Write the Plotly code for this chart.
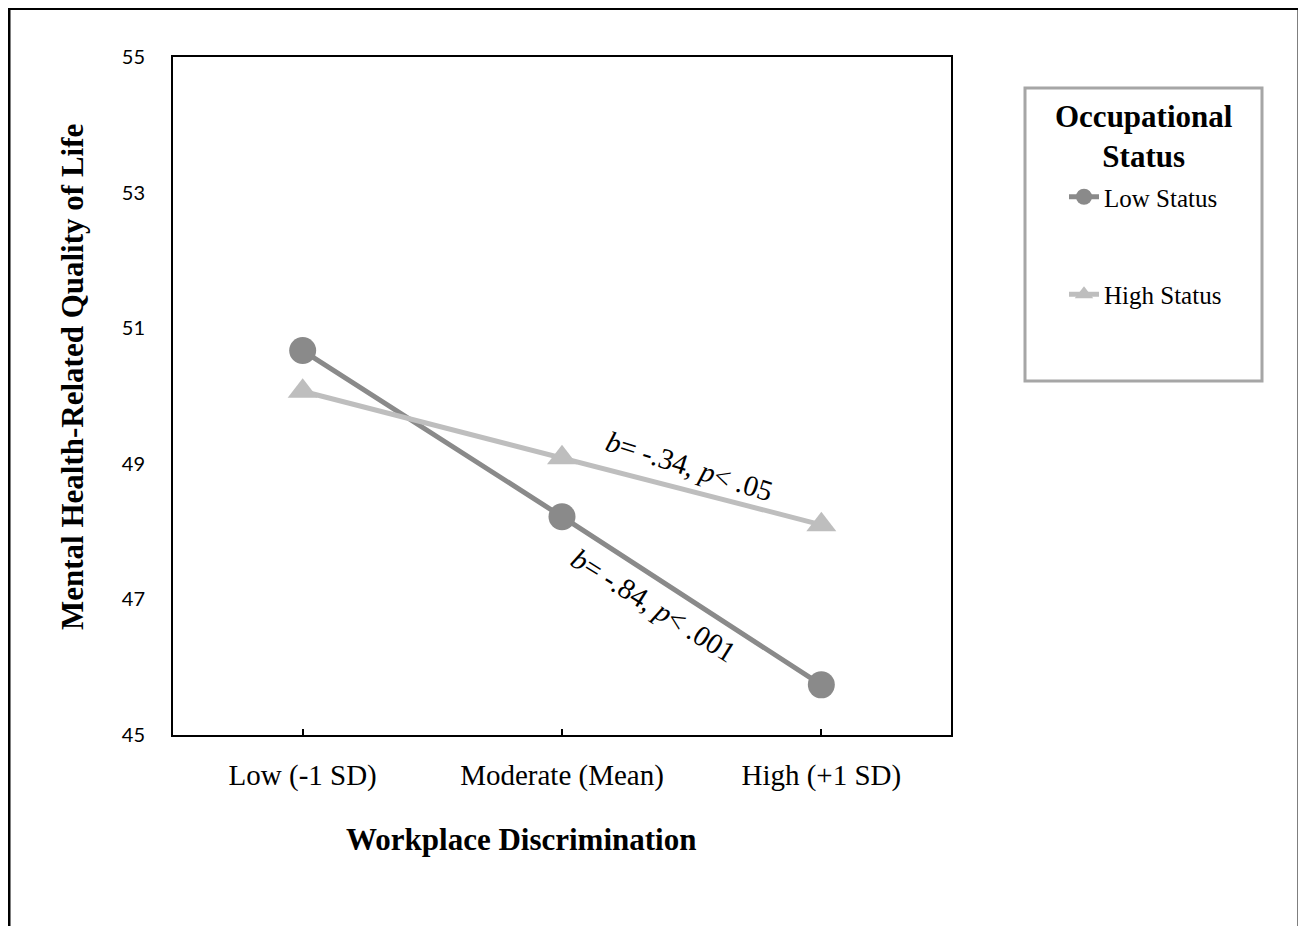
import plotly.graph_objects as go

categories = ["Low (-1 SD)", "Moderate (Mean)", "High (+1 SD)"]
low_status = [50.67, 48.22, 45.74]
high_status = [50.07, 49.09, 48.10]
y_ticks = [45, 47, 49, 51, 53, 55]

SERIF = "Liberation Serif, Times New Roman, serif"
SANS = "Lato, Open Sans, sans-serif"

W, H = 1306, 926
OFF = 8  # page body margin offset
# plot area in screen pixels
L, R, T, B = 173, 951, 57, 735
pw, ph = R - L, B - T


def px(x):
    return (x - L) / pw


def py(y):
    return (B - y) / ph


fig = go.Figure()
fig.add_trace(go.Scatter(
    x=categories, y=low_status, name="Low Status", mode="lines+markers",
    line=dict(color="#8a8a8a", width=5),
    marker=dict(symbol="circle", size=27, color="#8a8a8a"),
    legendgroup="a",
))
fig.add_trace(go.Scatter(
    x=categories, y=high_status, name="High Status", mode="lines+markers",
    line=dict(color="#bebebe", width=5),
    marker=dict(symbol="triangle-up", size=26, color="#bebebe"),
    legendgroup="b",
))

shapes = [
    # outer frame
    dict(type="rect", xref="paper", yref="paper",
         x0=px(9), x1=px(1299), y0=py(8.5), y1=py(980),
         line=dict(color="black", width=3)),
    # legend box
    dict(type="rect", xref="paper", yref="paper",
         x0=px(1025), x1=px(1262), y0=py(88), y1=py(381),
         line=dict(color="#a6a6a6", width=3)),
]

annotations = [
    dict(text="<b>Mental Health-Related Quality of Life</b>", xref="paper", yref="paper",
         x=px(72), y=py(377), textangle=-90, showarrow=False,
         font=dict(family=SERIF, size=31, color="black"), xanchor="center", yanchor="middle"),
    dict(text="<b>Workplace Discrimination</b>", xref="paper", yref="paper",
         x=px(521), y=py(840), showarrow=False,
         font=dict(family=SERIF, size=31, color="black"), xanchor="center", yanchor="middle"),
    dict(text="<i>b</i>= -.34, <i>p</i>&lt; .05", xref="paper", yref="paper",
         x=px(689), y=py(466), textangle=17.5, showarrow=False,
         font=dict(family=SERIF, size=29, color="black"), xanchor="center", yanchor="middle"),
    dict(text="<i>b</i>= -.84, <i>p</i>&lt; .001", xref="paper", yref="paper",
         x=px(653), y=py(605), textangle=32, showarrow=False,
         font=dict(family=SERIF, size=29, color="black"), xanchor="center", yanchor="middle"),
    # legend title
    dict(text="<b>Occupational<br>Status</b>", xref="paper", yref="paper",
         x=px(1144), y=py(136), showarrow=False, align="center",
         font=dict(family=SERIF, size=31, color="black"), xanchor="center", yanchor="middle"),
]

fig.update_layout(
    width=W, height=H,
    margin=dict(l=L - OFF, r=W - (R - OFF), t=T - OFF, b=H - (B - OFF), pad=0),
    paper_bgcolor="white", plot_bgcolor="white",
    showlegend=True,
    legend=dict(
        font=dict(family=SERIF, size=25, color="black"),
        x=px(1064), y=py(174), xanchor="left", yanchor="top",
        bgcolor="rgba(0,0,0,0)", borderwidth=0,
        traceorder="grouped", tracegroupgap=62,
        itemsizing="trace",
    ),
    xaxis=dict(
        type="category", range=[-0.5, 2.5],
        showline=True, mirror=True, linecolor="black", linewidth=2,
        ticks="inside", ticklen=6, tickwidth=2, tickcolor="black",
        tickfont=dict(family=SERIF, size=29, color="black"),
        ticklabelstandoff=13, showgrid=False, zeroline=False,
    ),
    yaxis=dict(
        range=[45, 55], tickvals=y_ticks,
        showline=True, mirror=True, linecolor="black", linewidth=2,
        ticks="", showgrid=False, zeroline=False,
        tickfont=dict(family=SANS, size=20, color="black"),
        ticklabelstandoff=22,
    ),
    shapes=shapes,
    annotations=annotations,
)

fig.write_html("out.html")
